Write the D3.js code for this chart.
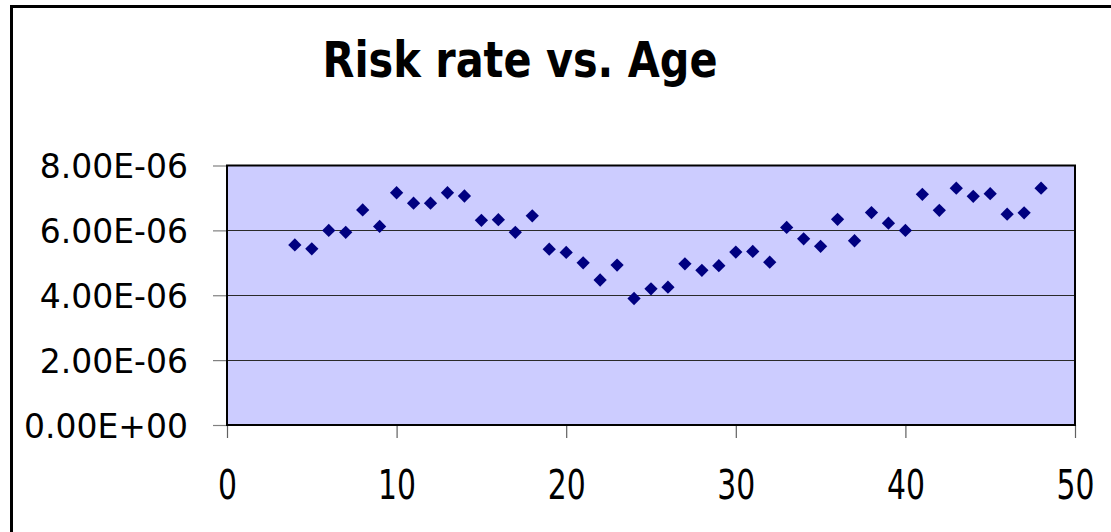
<!DOCTYPE html>
<html><head><meta charset="utf-8">
<script src="https://cdn.jsdelivr.net/npm/d3@7"></script>
<style>html,body{margin:0;padding:0;background:#fff;overflow:hidden}</style>
</head><body>
<svg id="c" width="1111" height="532"></svg>
<script>
const chartTitle = "Risk rate vs. Age";
const ages = [4,5,6,7,8,9,10,11,12,13,14,15,16,17,18,19,20,21,22,23,24,25,26,27,28,29,30,31,32,33,34,35,36,37,38,39,40,41,42,43,44,45,46,47,48];
const riskRates = [5.55e-6,5.43e-6,6.00e-6,5.94e-6,6.63e-6,6.12e-6,7.16e-6,6.84e-6,6.84e-6,7.16e-6,7.06e-6,6.31e-6,6.33e-6,5.94e-6,6.45e-6,5.42e-6,5.32e-6,5.00e-6,4.47e-6,4.93e-6,3.90e-6,4.20e-6,4.25e-6,4.97e-6,4.77e-6,4.91e-6,5.33e-6,5.35e-6,5.02e-6,6.09e-6,5.74e-6,5.51e-6,6.34e-6,5.68e-6,6.55e-6,6.22e-6,6.00e-6,7.11e-6,6.62e-6,7.30e-6,7.05e-6,7.13e-6,6.50e-6,6.54e-6,7.30e-6];
const xTicks = [0,10,20,30,40,50];
const yTicks = [0,2e-6,4e-6,6e-6,8e-6];
const yTickLabels = ["0.00E+00","2.00E-06","4.00E-06","6.00E-06","8.00E-06"];

const svg = d3.select("#c");
const plot = {left:227, right:1075, top:165.5, bottom:425};

// outer chart border
svg.append("rect").attr("x",11.5).attr("y",6.5).attr("width",1200).attr("height",600)
  .attr("fill","#fff").attr("stroke","#000").attr("stroke-width",3);

const x = d3.scaleLinear().domain([0,50]).range([plot.left, plot.right]);
const y = d3.scaleLinear().domain([0,8e-6]).range([plot.bottom, plot.top]);

// plot area
svg.append("rect").attr("x",plot.left).attr("y",plot.top)
  .attr("width",plot.right-plot.left).attr("height",plot.bottom-plot.top)
  .attr("fill","#CCCCFF");

// gridlines
svg.append("g").selectAll("line").data(yTicks.slice(1,-1)).join("line")
  .attr("x1",plot.left).attr("x2",plot.right)
  .attr("y1",d=>Math.round(y(d))+0.5).attr("y2",d=>Math.round(y(d))+0.5)
  .attr("stroke","#2a2a2a").attr("stroke-width",1.2);

// y axis
const yAxis = d3.axisLeft(y).tickValues(yTicks).tickSize(14).tickPadding(25)
  .tickFormat((d,i)=>yTickLabels[i]);
const gy = svg.append("g").attr("transform",`translate(${plot.left},0)`).call(yAxis);
gy.select(".domain").remove();
gy.selectAll(".tick line").attr("stroke","#808080").attr("stroke-width",1.2);
gy.selectAll(".tick text").attr("font-family","DejaVu Sans, Verdana, sans-serif")
  .attr("font-size",33).attr("fill","#000").attr("dy","0.37em");

// x axis
const xAxis = d3.axisBottom(x).tickValues(xTicks).tickSize(13).tickPadding(33)
  .tickFormat(d3.format("d"));
const gx = svg.append("g").attr("transform",`translate(0,${plot.bottom})`).call(xAxis);
gx.select(".domain").remove();
gx.selectAll(".tick line").attr("stroke","#606060").attr("stroke-width",1.2);
gx.selectAll(".tick text").attr("font-family","DejaVu Sans, Verdana, sans-serif")
  .attr("font-size",40).attr("fill","#000").attr("dy","0.71em")
  .attr("textLength",d=>String(d).length*19).attr("lengthAdjust","spacingAndGlyphs");

// plot border
svg.append("rect").attr("x",plot.left).attr("y",plot.top)
  .attr("width",plot.right-plot.left).attr("height",plot.bottom-plot.top)
  .attr("fill","none").attr("stroke","#000").attr("stroke-width",2);

// markers
const diamond = d3.symbol(d3.symbolSquare, 88);
svg.append("g").selectAll("path").data(ages.map((a,i)=>[a,riskRates[i]])).join("path")
  .attr("d",diamond)
  .attr("transform",d=>`translate(${x(d[0])},${y(d[1])}) rotate(45)`)
  .attr("fill","#000080");

// title
svg.append("text").attr("x",520).attr("y",77).attr("text-anchor","middle")
  .attr("font-family","DejaVu Sans, Verdana, sans-serif").attr("font-weight","bold")
  .attr("font-size",49).attr("fill","#000")
  .attr("textLength",395).attr("lengthAdjust","spacingAndGlyphs")
  .text(chartTitle);
</script>
</body></html>
